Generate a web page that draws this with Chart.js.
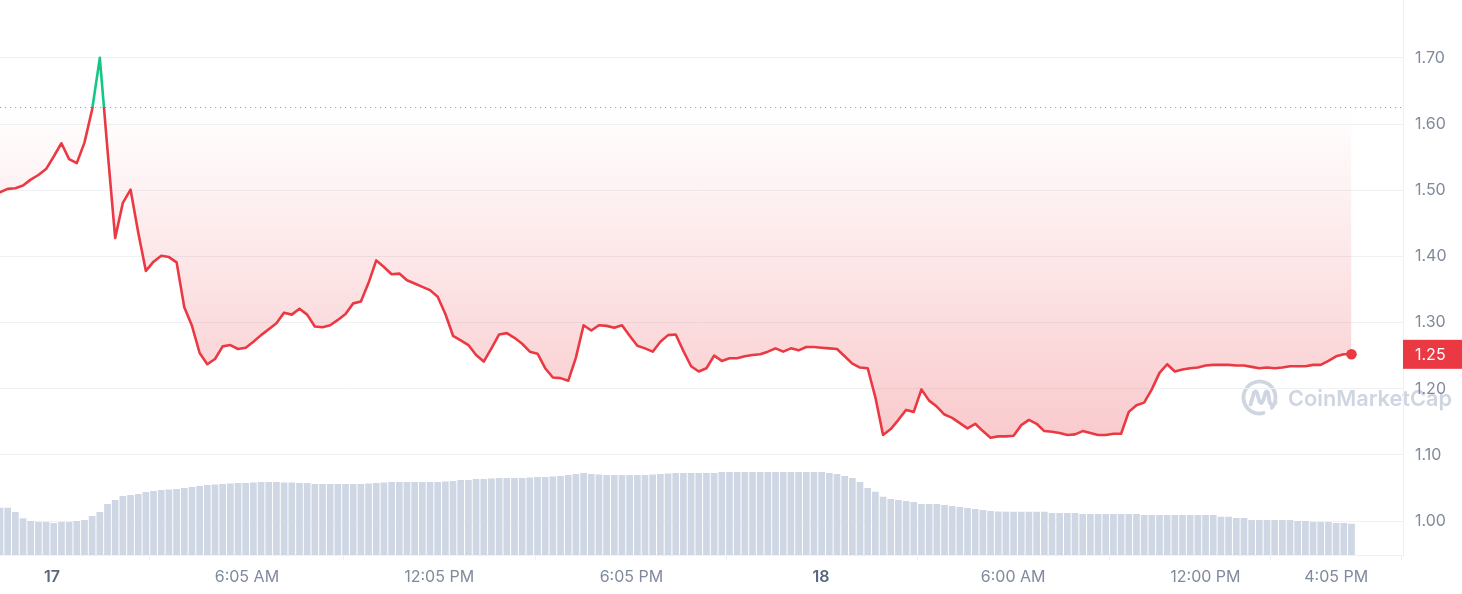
<!DOCTYPE html>
<html><head><meta charset="utf-8">
<script src="https://cdn.jsdelivr.net/npm/chart.js@4.4.0/dist/chart.umd.min.js"></script>
<style>html,body{margin:0;padding:0;background:#fff;}#wrap{width:1462px;height:594px;position:relative;}</style>
</head><body><div id="wrap"><canvas id="c"></canvas></div>
<script>
// ---- data ----
const PRICES = [
1.497,1.502,1.503,1.507,1.516,1.523,1.532,1.551,1.571,1.547,
1.541,1.572,1.622,1.700,1.561,1.428,1.481,1.501,1.436,1.378,
1.392,1.401,1.399,1.391,1.323,1.295,1.254,1.237,1.245,1.264,
1.266,1.260,1.262,1.271,1.281,1.290,1.299,1.315,1.312,1.321,
1.312,1.294,1.293,1.296,1.304,1.313,1.329,1.332,1.360,1.394,
1.384,1.373,1.374,1.364,1.359,1.354,1.349,1.339,1.313,1.280,
1.273,1.266,1.251,1.241,1.261,1.282,1.284,1.277,1.268,1.256,
1.253,1.231,1.217,1.216,1.212,1.247,1.296,1.288,1.296,1.295,
1.292,1.296,1.280,1.265,1.261,1.256,1.271,1.281,1.282,1.257,
1.234,1.226,1.231,1.250,1.242,1.246,1.246,1.249,1.251,1.252,
1.256,1.261,1.256,1.261,1.258,1.263,1.263,1.262,1.261,1.260,
1.249,1.238,1.232,1.231,1.187,1.130,1.139,1.153,1.168,1.165,
1.199,1.182,1.173,1.161,1.156,1.148,1.140,1.147,1.136,1.126,
1.128,1.128,1.129,1.145,1.153,1.147,1.136,1.135,1.133,1.130,
1.131,1.136,1.133,1.130,1.130,1.132,1.132,1.165,1.175,1.179,
1.199,1.224,1.237,1.226,1.229,1.231,1.232,1.235,1.236,1.236,
1.236,1.235,1.235,1.233,1.231,1.232,1.231,1.232,1.234,1.234,
1.234,1.236,1.236,1.242,1.249,1.252,1.252
];
const VOLUMES = [
47.3,47.3,43,36.7,34,33,33,32,33,33,
34,35,39,43,51,55,59,60,61,63,
64,65,65.5,66,67,68,69,70,70.5,71,
71.5,72,72,72.5,73,73,73,72.5,72.5,72,
72,71,71,71,71,71,71,71,71.5,72,
72.5,73,73,73,73,73,73,73,73.5,74,
75,75,76,76,76.5,77,77,77,77,77.5,
78,78,78.5,79,80,81,82,81,80.5,80,
80,80,80,80,80,80.5,81,81.5,82,82,
82,82,82,82,83,83,83,83,83,83,
83,83,83,83,83,83,83,83,82,81,
79,77,73,67,63.3,58.3,56,55,54,53,
51,51,51,50,49,48,47,46,45,44,
43.5,43.3,43.3,43.3,43.3,43.3,43.3,42,42,42,
42,41,41,41,41,41,41,41,41,40,
40,40,40,40,40,40,40,40,40,38.3,
38.3,37,37,35,35,35,35,35,35,34,
34,33,33,33,32,32,31.3
];
const START_MIN = -97.4;   // minutes from 17th 00:00 of first sample
const STEP_MIN = 14.38;    // sample interval, minutes
const BASE_PRICE = 1.626;  // opening price (dotted reference)
const Y_TICKS = [1.00,1.10,1.20,1.30,1.40,1.50,1.60,1.70];
const X_TICK_MIN = [0,365,725,1085,1440,1800,2160,2405];
const X_TICK_LABELS = ['17','6:05 AM','12:05 PM','6:05 PM','18','6:00 AM','12:00 PM','4:05 PM'];
const X_TICK_BOLD = ['17','18'];

const TIMES = PRICES.map((_, i) => START_MIN + i * STEP_MIN);

const RED = '#ea3943', GREEN = '#16c784';
const FONT = 'Inter';
const GRID = '#eff2f5';

function basePx(chart){ return chart.scales.y.getPixelForValue(BASE_PRICE); }

function lineColor(ctx){
  const chart = ctx.chart, a = chart.chartArea;
  if (!a || !chart.scales.y) return RED;
  const f = Math.min(1, Math.max(0, (basePx(chart) - a.top) / (a.bottom - a.top)));
  const g = chart.ctx.createLinearGradient(0, a.top, 0, a.bottom);
  g.addColorStop(0, GREEN); g.addColorStop(f, GREEN);
  g.addColorStop(f, RED); g.addColorStop(1, RED);
  return g;
}
function fillColor(ctx){
  const chart = ctx.chart, a = chart.chartArea;
  if (!a || !chart.scales.y) return 'rgba(234,57,67,0.15)';
  const f = Math.min(1, Math.max(0, (basePx(chart) - a.top) / (a.bottom - a.top)));
  const g = chart.ctx.createLinearGradient(0, a.top, 0, a.bottom);
  g.addColorStop(0, 'rgba(22,199,132,0)');
  g.addColorStop(f, 'rgba(234,57,67,0)');
  g.addColorStop(1, 'rgba(234,57,67,0.36)');
  return g;
}

const watermark = {
  id: 'watermark',
  beforeDraw(chart){
    const c = chart.ctx, a = chart.chartArea;
    c.save();
    c.fillStyle = '#fff'; c.fillRect(0, 0, chart.width, chart.height);
    const col = 'rgb(207,213,225)';
    const cx = a.right - 143.5, cy = 397.5, r = 16;
    c.strokeStyle = col; c.lineWidth = 3.8; c.lineCap = 'round'; c.lineJoin = 'round';
    c.beginPath(); c.arc(cx, cy, r, 0.42 * Math.PI, 2.22 * Math.PI); c.stroke();
    c.beginPath();
    c.moveTo(cx - 9, cy + 7);
    c.lineTo(cx - 5.5, cy - 5);
    c.quadraticCurveTo(cx - 3.5, cy - 8, cx - 2, cy - 3);
    c.lineTo(cx, cy + 4);
    c.quadraticCurveTo(cx + 2, cy + 8, cx + 4, cy + 2);
    c.lineTo(cx + 6, cy - 5);
    c.quadraticCurveTo(cx + 8, cy - 8, cx + 9, cy - 3);
    c.lineTo(cx + 10, cy + 4);
    c.quadraticCurveTo(cx + 12, cy + 10, cx + 16, cy + 5);
    c.stroke();
    c.fillStyle = col;
    c.font = '600 22px ' + FONT;
    c.textBaseline = 'alphabetic'; c.textAlign = 'left';
    const txt = 'CoinMarketCap';
    const w = c.measureText(txt).width;
    c.translate(a.right - 115, 406);
    c.scale(164 / w, 1);
    c.fillText(txt, 0, 0);
    c.restore();
  }
};

const baseline = {
  id: 'baseline',
  beforeDatasetsDraw(chart){
    const c = chart.ctx, a = chart.chartArea;
    const y = Math.round(basePx(chart)) + 0.5;
    c.save();
    c.strokeStyle = '#9aa3b2'; c.lineWidth = 1; c.setLineDash([1.2, 3.8]);
    c.beginPath(); c.moveTo(a.left, y); c.lineTo(a.right, y); c.stroke();
    c.restore();
  }
};

const badge = {
  id: 'badge',
  afterDraw(chart){
    const c = chart.ctx, a = chart.chartArea;
    const last = PRICES[PRICES.length - 1];
    const y = chart.scales.y.getPixelForValue(last);
    c.save();
    c.fillStyle = RED;
    c.fillRect(a.right, y - 14.5, chart.width - a.right, 29);
    c.fillStyle = '#fff';
    c.font = '16px ' + FONT;
    c.textBaseline = 'middle'; c.textAlign = 'left';
    c.fillText(last.toFixed(2), a.right + 12, y + 1);
    c.restore();
  }
};

new Chart(document.getElementById('c'), {
  data: {
    datasets: [
      {
        type: 'line',
        data: PRICES.map((p, i) => ({x: TIMES[i], y: p})),
        yAxisID: 'y',
        order: 1,
        borderColor: lineColor,
        backgroundColor: fillColor,
        borderWidth: 2.6,
        tension: 0,
        borderJoinStyle: 'round',
        borderCapStyle: 'round',
        fill: {value: BASE_PRICE},
        pointRadius: (ctx) => ctx.dataIndex === PRICES.length - 1 ? 5.3 : 0,
        pointBackgroundColor: RED,
        pointBorderColor: RED,
        pointBorderWidth: 0,
        pointHoverRadius: 0
      },
      {
        type: 'bar',
        data: VOLUMES.map((v, i) => ({x: TIMES[i], y: v})),
        yAxisID: 'yv',
        order: 2,
        backgroundColor: '#cfd6e4',
        borderWidth: 0,
        barPercentage: 0.87,
        categoryPercentage: 1.0
      }
    ]
  },
  options: {
    responsive: true,
    maintainAspectRatio: false,
    animation: false,
    events: [],
    layout: {padding: 0, autoPadding: false},
    plugins: {legend: {display: false}, tooltip: {enabled: false}},
    scales: {
      x: {
        type: 'linear',
        min: START_MIN,
        max: 2530,
        offset: false,
        grid: {display: true, drawOnChartArea: false, drawTicks: true, tickLength: 5, color: GRID},
        border: {display: true, color: GRID},
        afterBuildTicks: (s) => { s.ticks = X_TICK_MIN.map(v => ({value: v})); },
        afterFit: (s) => { s.height = 39; s.paddingLeft = 0; s.paddingRight = 0; s.paddingTop = 0; s.paddingBottom = 0; },
        ticks: {
          autoSkip: false, maxRotation: 0, minRotation: 0, padding: 8,
          callback: (v) => X_TICK_LABELS[X_TICK_MIN.indexOf(v)],
          font: (ctx) => {
            const lab = X_TICK_LABELS[X_TICK_MIN.indexOf(ctx.tick && ctx.tick.value)];
            return {family: FONT, size: 16, weight: X_TICK_BOLD.includes(lab) ? '600' : '400'};
          },
          color: (ctx) => {
            const lab = X_TICK_LABELS[X_TICK_MIN.indexOf(ctx.tick && ctx.tick.value)];
            return X_TICK_BOLD.includes(lab) ? '#58667e' : '#808a9d';
          }
        }
      },
      y: {
        position: 'right',
        min: 0.9487,
        max: 1.7875,
        grid: {color: GRID, drawTicks: false},
        border: {display: true, color: GRID},
        afterBuildTicks: (s) => { s.ticks = Y_TICKS.map(v => ({value: v})); },
        afterFit: (s) => { s.width = 59; s.paddingLeft = 0; s.paddingRight = 0; s.paddingTop = 0; s.paddingBottom = 0; },
        ticks: {
          padding: 12,
          callback: (v) => Number(v).toFixed(2),
          font: {family: FONT, size: 16},
          color: '#808a9d'
        }
      },
      yv: {
        display: false,
        min: 0,
        max: 555
      }
    }
  },
  plugins: [watermark, baseline, badge]
});
</script>
</body></html>
